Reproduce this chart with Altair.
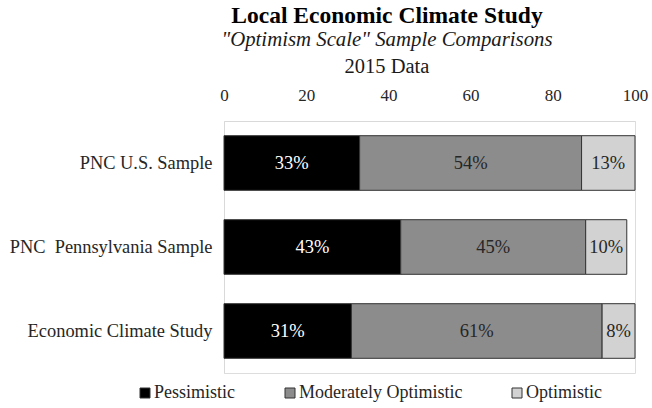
import altair as alt
import pandas as pd

# Survey samples (top to bottom) and share of responses per optimism level, in %
samples = ["PNC U.S. Sample", "PNC\u00a0 Pennsylvania Sample", "Economic Climate Study"]
levels = ["Pessimistic", "Moderately Optimistic", "Optimistic"]
pessimistic = [33, 43, 31]
moderately_optimistic = [54, 45, 61]
optimistic = [13, 10, 8]

level_colors = ["#000000", "#8c8c8c", "#d2d2d2"]
label_colors = ["#ffffff", "#262626", "#262626"]

rows = []
for i, s in enumerate(samples):
    for j, (lvl, vals) in enumerate(zip(levels, [pessimistic, moderately_optimistic, optimistic])):
        rows.append({"sample": s, "level": lvl, "order": j, "value": vals[i],
                     "label": f"{vals[i]}%", "label_color": label_colors[j]})
df = pd.DataFrame(rows)

FONT = "Times New Roman"

base = alt.Chart(df).transform_stack(
    stack="value", groupby=["sample"], sort=[alt.SortField("order")], as_=["x0", "x1"]
).transform_calculate(mid="(datum.x0 + datum.x1) / 2")

y_enc = alt.Y("sample:N", sort=samples, title=None,
              scale=alt.Scale(paddingInner=0.35, paddingOuter=0.175),
              axis=alt.Axis(orient="left", ticks=False, domainColor="#d9d9d9",
                            labelPadding=12, labelFontSize=18.4, labelFont=FONT,
                            labelColor="#262626", labelLimit=300))

bars = base.mark_bar(stroke="#333333", strokeWidth=1).encode(
    x=alt.X("x0:Q", title=None,
            scale=alt.Scale(domain=[0, 100], nice=False),
            axis=alt.Axis(orient="top", values=[0, 20, 40, 60, 80, 100], ticks=False,
                          grid=False, domainColor="#d9d9d9", labelPadding=17,
                          labelFlush=False, labelFontSize=17, labelFont=FONT,
                          labelColor="#262626")),
    x2="x1:Q",
    y=y_enc,
    color=alt.Color("level:N", sort=levels,
                    scale=alt.Scale(domain=levels, range=level_colors),
                    legend=alt.Legend(title=None, orient="none", direction="horizontal",
                                      legendX=-88, legendY=263, symbolType="square",
                                      symbolSize=100, symbolStrokeColor="#333333",
                                      symbolStrokeWidth=1, labelFontSize=18,
                                      labelFont=FONT, labelColor="#262626",
                                      labelOffset=0, columnPadding=45, labelLimit=300)),
    order=alt.Order("order:Q"),
)

labels = base.mark_text(font=FONT, fontSize=18.5, baseline="middle").encode(
    x="mid:Q",
    y=alt.Y("sample:N", sort=samples),
    text="label:N",
    color=alt.Color("label_color:N", scale=None),
)

title_rows = pd.DataFrame({
    "line": ["Local Economic Climate Study", '"Optimism Scale" Sample Comparisons', "2015 Data"],
    "idx": [0, 1, 2],
})

def title_line(i, size, weight="normal", style="normal", yoff=0):
    return alt.Chart(title_rows).transform_filter(f"datum.idx == {i}").mark_text(
        font=FONT, fontSize=size, fontWeight=weight, fontStyle=style,
        align="center", baseline="alphabetic", color="#000000" if i == 0 else "#1a1a1a"
    ).encode(text="line:N", x=alt.value(163), y=alt.value(yoff))

titles = (title_line(0, 23.5, weight="bold", yoff=-98)
          + title_line(1, 20.8, style="italic", yoff=-75)
          + title_line(2, 20.5, yoff=-48))

chart = alt.layer(bars, labels, titles).properties(
    width=411, height=252,
    autosize=alt.AutoSizeParams(type="none"),
    padding={"left": 224, "top": 121, "right": 17, "bottom": 35},
).configure_view(stroke=None).configure(background="#ffffff")

chart.save("out.html", embed_options={"renderer": "svg", "actions": False})
